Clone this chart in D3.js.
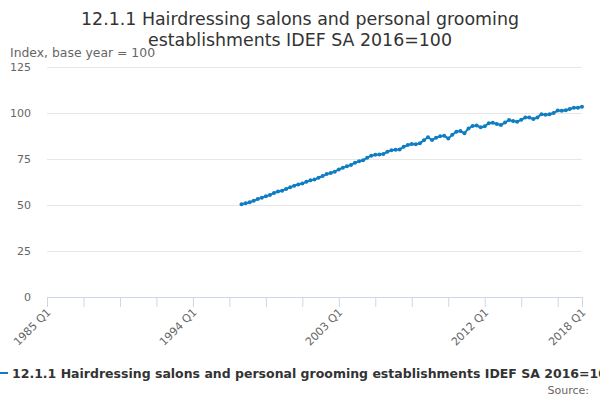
<!DOCTYPE html>
<html>
<head>
<meta charset="utf-8">
<script src="https://cdn.jsdelivr.net/npm/d3@7"></script>
<style>
  body { margin: 0; background: #fff; }
  svg { font-family: "DejaVu Sans", sans-serif; display: block; }
</style>
</head>
<body>
<div id="chart"></div>
<script>
// Data: quarterly index values, first observation 1997 Q1
var firstYear = 1985, lastYear = 2018;
var dataStart = "1997 Q1";
var values = [
  50.4, 51.0, 51.5, 52.3, 53.2, 54.0, 54.7, 55.5, 56.5, 57.3, 57.8, 58.7,
  59.6, 60.5, 61.2, 61.7, 62.6, 63.4, 63.8, 64.8, 65.7, 66.8, 67.4, 68.1,
  69.3, 70.3, 71.0, 71.8, 73.0, 73.8, 74.3, 75.7, 76.8, 77.3, 77.4, 77.7,
  79.0, 79.8, 80.0, 80.2, 81.6, 82.6, 83.2, 83.0, 83.5, 85.2, 86.8, 85.3,
  86.6, 87.3, 87.6, 86.2, 88.2, 89.8, 90.2, 89.0, 91.6, 93.0, 93.2, 92.2,
  92.8, 94.4, 94.7, 94.0, 93.5, 94.8, 96.2, 95.6, 95.3, 96.3, 97.5, 97.5,
  96.7, 97.6, 99.3, 99.0, 99.3, 100.0, 101.3, 101.2, 101.5, 102.2, 102.9, 102.8,
  103.4
];
var yTicks = [0, 25, 50, 75, 100, 125];
var xLabels = ["1985 Q1", "1994 Q1", "2003 Q1", "2012 Q1", "2018 Q1"];
var seriesName = "12.1.1 Hairdressing salons and personal grooming establishments IDEF SA 2016=100";

// Build quarter categories
var quarters = [];
for (var y = firstYear; y <= lastYear; y++) {
  for (var q = 1; q <= 4; q++) {
    if (y === lastYear && q > 1) break;
    quarters.push(y + " Q" + q);
  }
}
var startIdx = quarters.indexOf(dataStart);
var points = values.map((v, i) => ({ label: quarters[startIdx + i], value: v }));

var width = 600, height = 400;
var margin = { left: 47, right: 18, top: 67, bottom: 103 };

var svg = d3.select("#chart").append("svg")
  .attr("width", width)
  .attr("height", height);

var x = d3.scalePoint()
  .domain(quarters)
  .range([margin.left, width - margin.right]);

var yScale = d3.scaleLinear()
  .domain([0, 125])
  .range([height - margin.bottom, margin.top]);

// Title
svg.append("text")
  .attr("x", 300).attr("y", 25)
  .attr("text-anchor", "middle")
  .attr("font-size", "17.4px")
  .attr("fill", "#333")
  .text("12.1.1 Hairdressing salons and personal grooming");
svg.append("text")
  .attr("x", 300).attr("y", 46)
  .attr("text-anchor", "middle")
  .attr("font-size", "17.4px")
  .attr("fill", "#333")
  .text("establishments IDEF SA 2016=100");

// Y axis label
svg.append("text")
  .attr("x", 10).attr("y", 57)
  .attr("font-size", "12.4px")
  .attr("fill", "#666")
  .text("Index, base year = 100");

// Gridlines + y labels
var yAxis = d3.axisLeft(yScale)
  .tickValues(yTicks)
  .tickSize(-(width - margin.left - margin.right))
  .tickPadding(16);

var yG = svg.append("g")
  .attr("transform", "translate(" + margin.left + ",0)")
  .call(yAxis);
yG.select(".domain").remove();
yG.selectAll(".tick line").attr("stroke", "#e6e6e6");
yG.selectAll(".tick line").filter(d => d === 0).remove();
yG.selectAll(".tick text")
  .attr("font-size", "11px")
  .attr("fill", "#666")
  .attr("font-family", "DejaVu Sans, sans-serif");

// X axis: a tick every 9 quarters, labels every 36, plus the last quarter
var tickCats = quarters.filter((d, i) => i % 9 === 0);
tickCats.push(quarters[quarters.length - 1]);

var xAxis = d3.axisBottom(x)
  .tickValues(tickCats)
  .tickSize(10)
  .tickFormat(d => xLabels.indexOf(d) >= 0 ? d : "");

var xG = svg.append("g")
  .attr("transform", "translate(0," + (height - margin.bottom) + ")")
  .call(xAxis);
xG.select(".domain").attr("stroke", "#ccd6eb").attr("d", "M" + margin.left + ",0.5H" + (width - margin.right));
xG.selectAll(".tick line").attr("stroke", "#ccd6eb");
xG.selectAll(".tick text")
  .attr("font-size", "11px")
  .attr("fill", "#666")
  .attr("font-family", "DejaVu Sans, sans-serif")
  .attr("text-anchor", "end")
  .attr("dy", null)
  .attr("y", 0)
  .attr("transform", "translate(4,16) rotate(-45)");

// Line
var line = d3.line()
  .x(d => x(d.label))
  .y(d => yScale(d.value));

svg.append("path")
  .datum(points)
  .attr("fill", "none")
  .attr("stroke", "#0f7dc2")
  .attr("stroke-width", 2)
  .attr("d", line);

svg.append("g")
  .selectAll("circle")
  .data(points)
  .enter()
  .append("circle")
  .attr("cx", d => x(d.label))
  .attr("cy", d => yScale(d.value))
  .attr("r", 2)
  .attr("fill", "#0f7dc2");

// Legend (the reference cuts the long name off at the right edge)
svg.append("line")
  .attr("x1", 0).attr("x2", 8)
  .attr("y1", 373).attr("y2", 373)
  .attr("stroke", "#0f7dc2")
  .attr("stroke-width", 2);
svg.append("text")
  .attr("x", 12).attr("y", 378)
  .attr("font-size", "12.5px")
  .attr("font-weight", "bold")
  .attr("fill", "#333")
  .text(seriesName);

// Source
svg.append("text")
  .attr("x", 589).attr("y", 394)
  .attr("text-anchor", "end")
  .attr("font-size", "11px")
  .attr("fill", "#666")
  .text("Source:");
</script>
</body>
</html>
